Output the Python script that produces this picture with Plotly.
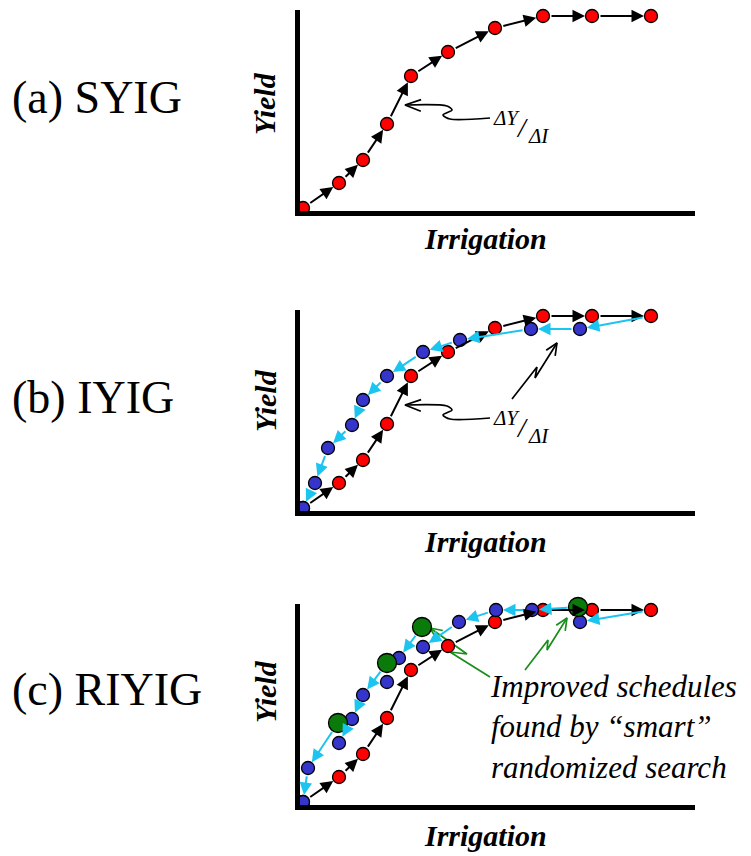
import math
import plotly.graph_objects as go

# ---------------- data (irrigation / yield, arbitrary units) ----------------
irr_red = [3, 39, 63, 87, 111, 148, 195, 243, 292, 351]
yld_red = [3, 28, 51, 87, 135, 159, 183, 195, 195, 195]

irr_blue_b = [3, 15, 28, 52, 63, 87, 123, 160, 231, 280]
yld_blue_b = [3, 28, 63, 86, 111, 135, 159, 171, 182, 182]

irr_blue_c = [3, 8, 39, 52, 63, 87, 99, 123, 159, 196, 232, 280]
yld_blue_c = [3, 37, 62, 86, 110, 123, 147, 158, 183, 195, 195, 183]

irr_green_c = [38, 87, 122, 278]
yld_green_c = [82, 142, 178, 198]

# search moves in panel (c): (from, to) by point name
edges_c = [("R9", "B11"), ("G3", "B10"), ("B10", "B9"), ("B9", "B8"),
           ("B8", "B7"), ("G2", "B6"), ("G1", "B4"), ("B4", "B3"),
           ("B3", "B2"), ("G0", "B1"), ("B1", "B0")]

panel_labels = ["(a) SYIG", "(b) IYIG", "(c) RIYIG"]
x_title = "Irrigation"
y_title = "Yield"
note_text = "Improved schedules<br>found by \u201csmart\u201d<br>randomized search"

# pointer paths (decorative callouts)
dy_pointer_x = [105, 147, 152, 143, 150, 190]
dy_pointer_y = [106, 105, 101, 96, 92, 93]
b_pointer_x = [212, 237, 235, 257]
b_pointer_y = [112, 144, 133, 168]
g1_pointer_x = [190, 150, 167, 130]
g1_pointer_y = [128, 153, 151, 177]
g2_pointer_x = [225, 248, 247, 267]
g2_pointer_y = [135, 165, 155, 187]

# ---------------- style ----------------
PAGE_OFF = 8            # default body margin of the html page
W, H = 751 - PAGE_OFF, 856 - PAGE_OFF
RED = "#FF0000"
BLUE = "#3535CC"
GREEN = "#0A7A0A"
GREEN_LINE = "#1A8C1A"
CYAN = "#1CC4F0"
SERIF = "Liberation Serif, Times New Roman, serif"


def px(x):
    return (x - PAGE_OFF) / W


def py(y):
    return 1 - (y - PAGE_OFF) / H


fig = go.Figure()

# panel geometry (window pixels): left, right, bottom, top
panels = [(300, 695, 211, 10), (300, 695, 511, 310), (300, 695, 805, 604)]
XR = [0, 395]
YR = [0, 201]

layout_axes = {}
for i, (l, r, b, t) in enumerate(panels, start=1):
    sfx = "" if i == 1 else str(i)
    layout_axes["xaxis" + sfx] = dict(
        domain=[px(l), px(r)], range=XR, anchor="y" + sfx,
        showline=True, linewidth=5, linecolor="black", showgrid=False,
        zeroline=False, showticklabels=False, ticks="", fixedrange=True)
    layout_axes["yaxis" + sfx] = dict(
        domain=[py(b), py(t)], range=YR, anchor="x" + sfx,
        showline=True, linewidth=5, linecolor="black", showgrid=False,
        zeroline=False, showticklabels=False, ticks="", fixedrange=True)

annotations = []


def arrow(xr, yr, x0, y0, x1, y1, color, width=2.0, so0=7, so1=7):
    annotations.append(dict(
        xref=xr, yref=yr, axref=xr, ayref=yr, x=x1, y=y1, ax=x0, ay=y0,
        text="", showarrow=True, arrowhead=2, arrowsize=1.25,
        arrowwidth=width, arrowcolor=color, standoff=so1, startstandoff=so0))


def marker_trace(xs, ys, color, size, xa, ya):
    return go.Scatter(x=xs, y=ys, mode="markers", xaxis=xa, yaxis=ya,
                      cliponaxis=False, hoverinfo="skip", showlegend=False,
                      marker=dict(color=color, size=size,
                                  line=dict(color="black", width=1.3)))


def pointer(xs, ys, color, xa, ya, smooth=False, arm=13, ang=24):
    # path plus an open V head at the first point
    fig.add_trace(go.Scatter(x=xs, y=ys, mode="lines", xaxis=xa, yaxis=ya,
                             hoverinfo="skip", showlegend=False, cliponaxis=False,
                             line=dict(color=color, width=1.7,
                                       shape="spline" if smooth else "linear",
                                       smoothing=0.8)))
    tx, ty = xs[0], ys[0]
    dx, dy = xs[1] - tx, ys[1] - ty
    base = math.atan2(dy, dx)
    hx, hy = [], []
    for s in (1, None, -1):
        if s is None:
            hx.append(tx); hy.append(ty)
        else:
            a = base + s * math.radians(ang)
            hx.append(tx + arm * math.cos(a)); hy.append(ty + arm * math.sin(a))
    fig.add_trace(go.Scatter(x=hx, y=hy, mode="lines", xaxis=xa, yaxis=ya,
                             hoverinfo="skip", showlegend=False, cliponaxis=False,
                             line=dict(color=color, width=1.7)))


def reversed_pointer(xs, ys, *a, **k):
    pointer(xs[::-1], ys[::-1], *a, **k)


# ---- black SYIG arrows in all panels ----
for i in (1, 2, 3):
    sfx = "" if i == 1 else str(i)
    for k in range(len(irr_red) - 1):
        arrow("x" + sfx, "y" + sfx, irr_red[k], yld_red[k],
              irr_red[k + 1], yld_red[k + 1], "black")

# ---- cyan IYIG arrows panel (b) ----
chain_x = [irr_red[-1]] + irr_blue_b[::-1]
chain_y = [yld_red[-1]] + yld_blue_b[::-1]
for k in range(len(chain_x) - 1):
    arrow("x2", "y2", chain_x[k], chain_y[k], chain_x[k + 1], chain_y[k + 1], CYAN)

# ---- cyan RIYIG arrows panel (c) ----
pts = {"R9": (irr_red[-1], yld_red[-1])}
for k, (a, b) in enumerate(zip(irr_blue_c, yld_blue_c)):
    pts["B%d" % k] = (a, b)
for k, (a, b) in enumerate(zip(irr_green_c, yld_green_c)):
    pts["G%d" % k] = (a, b)
for s, e in edges_c:
    so0 = 9 if s.startswith("G") else 7
    arrow("x3", "y3", pts[s][0], pts[s][1], pts[e][0], pts[e][1], CYAN, so0=so0)

# ---- callout pointers ----
pointer(dy_pointer_x, dy_pointer_y, "black", "x", "y", smooth=True, arm=17, ang=20)
pointer(dy_pointer_x, dy_pointer_y, "black", "x2", "y2", smooth=True, arm=17, ang=20)
reversed_pointer(b_pointer_x, b_pointer_y, "black", "x2", "y2")
reversed_pointer(g1_pointer_x, g1_pointer_y, GREEN_LINE, "x3", "y3")
reversed_pointer(g2_pointer_x, g2_pointer_y, GREEN_LINE, "x3", "y3")

# ---- markers ----
fig.add_trace(marker_trace(irr_red, yld_red, RED, 13, "x", "y"))
fig.add_trace(marker_trace(irr_red, yld_red, RED, 13, "x2", "y2"))
fig.add_trace(marker_trace(irr_blue_b, yld_blue_b, BLUE, 13, "x2", "y2"))
fig.add_trace(marker_trace(irr_red, yld_red, RED, 13, "x3", "y3"))
fig.add_trace(marker_trace(irr_blue_c, yld_blue_c, BLUE, 13, "x3", "y3"))
fig.add_trace(marker_trace(irr_green_c, yld_green_c, GREEN, 19, "x3", "y3"))

# ---- texts ----
label_y = [97, 397, 689]
ytitle_y = [104, 401, 692]
xtitle_y = [239, 541, 835]
for i in range(3):
    annotations.append(dict(xref="paper", yref="paper", x=px(10), y=py(label_y[i]),
                            xanchor="left", yanchor="middle", showarrow=False,
                            text=panel_labels[i],
                            font=dict(family=SERIF, size=46, color="black")))
    annotations.append(dict(xref="paper", yref="paper", x=px(265), y=py(ytitle_y[i]),
                            xanchor="center", yanchor="middle", showarrow=False,
                            textangle=-90, text="<b><i>%s</i></b>" % y_title,
                            font=dict(family=SERIF, size=30, color="black")))
    annotations.append(dict(xref="paper", yref="paper", x=px(485), y=py(xtitle_y[i]),
                            xanchor="center", yanchor="middle", showarrow=False,
                            text="<b><i>%s</i></b>" % x_title,
                            font=dict(family=SERIF, size=30, color="black")))

# Delta Y / Delta I fraction labels
for sfx in ("", "2"):
    annotations.append(dict(xref="x" + sfx, yref="y" + sfx, x=191, y=93,
                            xanchor="left", yanchor="middle", showarrow=False,
                            text="<i>\u0394Y</i>",
                            font=dict(family=SERIF, size=21, color="black")))
    annotations.append(dict(xref="x" + sfx, yref="y" + sfx, x=222, y=84,
                            xanchor="center", yanchor="middle", showarrow=False,
                            text="<i>/</i>",
                            font=dict(family=SERIF, size=28, color="black")))
    annotations.append(dict(xref="x" + sfx, yref="y" + sfx, x=226, y=75,
                            xanchor="left", yanchor="middle", showarrow=False,
                            text="<i>\u0394I</i>",
                            font=dict(family=SERIF, size=21, color="black")))

annotations.append(dict(xref="paper", yref="paper", x=px(488), y=py(667),
                        xanchor="left", yanchor="top", align="left", showarrow=False,
                        text="<i>%s</i>" % note_text,
                        font=dict(family=SERIF, size=31, color="black")))

fig.update_layout(
    width=W, height=H, margin=dict(l=0, r=0, t=0, b=0),
    paper_bgcolor="white", plot_bgcolor="white",
    showlegend=False, annotations=annotations, **layout_axes)

fig.write_html("out.html")
